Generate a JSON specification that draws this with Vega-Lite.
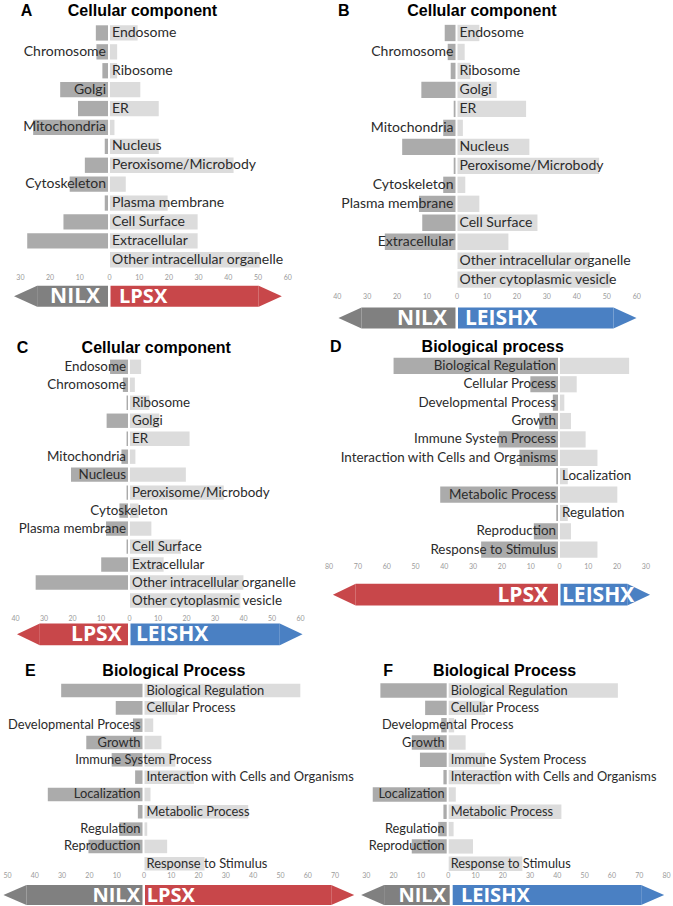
{
  "$schema": "https://vega.github.io/schema/vega-lite/v6.json",
  "padding": {"top": 2.5, "left": 0, "right": 0, "bottom": 0},
  "background": "white",
  "config": {
    "view": {"stroke": null},
    "axis": {"labelFont": "Lato", "labelFontSize": 7, "labelColor": "#9a9a9a", "ticks": false, "domain": false, "grid": false, "labelFlush": false, "labelOverlap": false, "labelBound": false},
    "title": {"font": "Liberation Sans", "fontSize": 16, "fontWeight": "bold", "color": "#000000", "anchor": "start", "frame": "group", "baseline": "alphabetic"},
    "text": {"font": "Lato", "fontSize": 13, "color": "#2b2b2b", "baseline": "middle"}
  },
  "datasets": {
    "A": [
      {"term": "Endosome", "group": "NILX", "value": -4.1}, {"term": "Endosome", "group": "LPSX", "value": 9.3},
      {"term": "Chromosome", "group": "NILX", "value": -3.9}, {"term": "Chromosome", "group": "LPSX", "value": 2.4},
      {"term": "Ribosome", "group": "NILX", "value": -1.9}, {"term": "Ribosome", "group": "LPSX", "value": 2.4},
      {"term": "Golgi", "group": "NILX", "value": -16.1}, {"term": "Golgi", "group": "LPSX", "value": 10.2},
      {"term": "ER", "group": "NILX", "value": -10.1}, {"term": "ER", "group": "LPSX", "value": 16.4},
      {"term": "Mitochondria", "group": "NILX", "value": -25.2}, {"term": "Mitochondria", "group": "LPSX", "value": 1.5},
      {"term": "Nucleus", "group": "NILX", "value": -1.1}, {"term": "Nucleus", "group": "LPSX", "value": 16.4},
      {"term": "Peroxisome/Microbody", "group": "NILX", "value": -7.8}, {"term": "Peroxisome/Microbody", "group": "LPSX", "value": 41.6},
      {"term": "Cytoskeleton", "group": "NILX", "value": -12.9}, {"term": "Cytoskeleton", "group": "LPSX", "value": 5.3},
      {"term": "Plasma membrane", "group": "NILX", "value": -1.1}, {"term": "Plasma membrane", "group": "LPSX", "value": 19.4},
      {"term": "Cell Surface", "group": "NILX", "value": -15}, {"term": "Cell Surface", "group": "LPSX", "value": 29.5},
      {"term": "Extracellular", "group": "NILX", "value": -27.2}, {"term": "Extracellular", "group": "LPSX", "value": 29.5},
      {"term": "Other intracellular organelle", "group": "LPSX", "value": 50.4}
    ],
    "B": [
      {"term": "Endosome", "group": "NILX", "value": -3.6}, {"term": "Endosome", "group": "LEISHX", "value": 7.3},
      {"term": "Chromosome", "group": "NILX", "value": -2.6}, {"term": "Chromosome", "group": "LEISHX", "value": 2.4},
      {"term": "Ribosome", "group": "NILX", "value": -1.6}, {"term": "Ribosome", "group": "LEISHX", "value": 4.3},
      {"term": "Golgi", "group": "NILX", "value": -11.4}, {"term": "Golgi", "group": "LEISHX", "value": 13.1},
      {"term": "ER", "group": "NILX", "value": -0.6}, {"term": "ER", "group": "LEISHX", "value": 22.9},
      {"term": "Mitochondria", "group": "NILX", "value": -4.1}, {"term": "Mitochondria", "group": "LEISHX", "value": 1.8},
      {"term": "Nucleus", "group": "NILX", "value": -17.8}, {"term": "Nucleus", "group": "LEISHX", "value": 24},
      {"term": "Peroxisome/Microbody", "group": "NILX", "value": -0.6}, {"term": "Peroxisome/Microbody", "group": "LEISHX", "value": 47.3},
      {"term": "Cytoskeleton", "group": "NILX", "value": -4.1}, {"term": "Cytoskeleton", "group": "LEISHX", "value": 2.6},
      {"term": "Plasma membrane", "group": "NILX", "value": -12.2}, {"term": "Plasma membrane", "group": "LEISHX", "value": 7.3},
      {"term": "Cell Surface", "group": "NILX", "value": -11.1}, {"term": "Cell Surface", "group": "LEISHX", "value": 26.7},
      {"term": "Extracellular", "group": "NILX", "value": -23.6}, {"term": "Extracellular", "group": "LEISHX", "value": 17},
      {"term": "Other intracellular organelle", "group": "LEISHX", "value": 44.1},
      {"term": "Other cytoplasmic vesicle", "group": "LEISHX", "value": 51}
    ],
    "C": [
      {"term": "Endosome", "group": "LPSX", "value": -6.3}, {"term": "Endosome", "group": "LEISHX", "value": 3.9},
      {"term": "Chromosome", "group": "LPSX", "value": -1.8}, {"term": "Chromosome", "group": "LEISHX", "value": 1.7},
      {"term": "Ribosome", "group": "LPSX", "value": -0.5}, {"term": "Ribosome", "group": "LEISHX", "value": 6.8},
      {"term": "Golgi", "group": "LPSX", "value": -7.5}, {"term": "Golgi", "group": "LEISHX", "value": 10.3},
      {"term": "ER", "group": "LPSX", "value": -0.5}, {"term": "ER", "group": "LEISHX", "value": 20.9},
      {"term": "Mitochondria", "group": "LPSX", "value": -2.3}, {"term": "Mitochondria", "group": "LEISHX", "value": 1.9},
      {"term": "Nucleus", "group": "LPSX", "value": -20}, {"term": "Nucleus", "group": "LEISHX", "value": 19.6},
      {"term": "Peroxisome/Microbody", "group": "LPSX", "value": -0.5}, {"term": "Peroxisome/Microbody", "group": "LEISHX", "value": 32.9},
      {"term": "Cytoskeleton", "group": "LPSX", "value": -3}, {"term": "Cytoskeleton", "group": "LEISHX", "value": 3},
      {"term": "Plasma membrane", "group": "LPSX", "value": -7.7}, {"term": "Plasma membrane", "group": "LEISHX", "value": 7.5},
      {"term": "Cell Surface", "group": "LPSX", "value": -0.5}, {"term": "Cell Surface", "group": "LEISHX", "value": 17.9},
      {"term": "Extracellular", "group": "LPSX", "value": -9.4}, {"term": "Extracellular", "group": "LEISHX", "value": 11.8},
      {"term": "Other intracellular organelle", "group": "LPSX", "value": -32.4}, {"term": "Other intracellular organelle", "group": "LEISHX", "value": 39.8},
      {"term": "Other cytoplasmic vesicle", "group": "LEISHX", "value": 38.7}
    ],
    "D": [
      {"term": "Biological Regulation", "group": "LPSX", "value": -57.1}, {"term": "Biological Regulation", "group": "LEISHX", "value": 24},
      {"term": "Cellular Process", "group": "LPSX", "value": -9.6}, {"term": "Cellular Process", "group": "LEISHX", "value": 5.8},
      {"term": "Developmental Process", "group": "LPSX", "value": -1.8}, {"term": "Developmental Process", "group": "LEISHX", "value": 1.5},
      {"term": "Growth", "group": "LPSX", "value": -6.5}, {"term": "Growth", "group": "LEISHX", "value": 3.8},
      {"term": "Immune System Process", "group": "LPSX", "value": -20.6}, {"term": "Immune System Process", "group": "LEISHX", "value": 8.9},
      {"term": "Interaction with Cells and Organisms", "group": "LPSX", "value": -13.4}, {"term": "Interaction with Cells and Organisms", "group": "LEISHX", "value": 13},
      {"term": "Localization", "group": "LPSX", "value": -0.6}, {"term": "Localization", "group": "LEISHX", "value": 2.7},
      {"term": "Metabolic Process", "group": "LPSX", "value": -40.9}, {"term": "Metabolic Process", "group": "LEISHX", "value": 19.9},
      {"term": "Regulation", "group": "LPSX", "value": -0.6}, {"term": "Regulation", "group": "LEISHX", "value": 2.7},
      {"term": "Reproduction", "group": "LPSX", "value": -8.4}, {"term": "Reproduction", "group": "LEISHX", "value": 3.8},
      {"term": "Response to Stimulus", "group": "LPSX", "value": -26.7}, {"term": "Response to Stimulus", "group": "LEISHX", "value": 13}
    ],
    "E": [
      {"term": "Biological Regulation", "group": "NILX", "value": -29.8}, {"term": "Biological Regulation", "group": "LPSX", "value": 57.1},
      {"term": "Cellular Process", "group": "NILX", "value": -9.8}, {"term": "Cellular Process", "group": "LPSX", "value": 12},
      {"term": "Developmental Process", "group": "NILX", "value": -3.5}, {"term": "Developmental Process", "group": "LPSX", "value": 3.2},
      {"term": "Growth", "group": "NILX", "value": -20.6}, {"term": "Growth", "group": "LPSX", "value": 6.2},
      {"term": "Immune System Process", "group": "NILX", "value": -11.3}, {"term": "Immune System Process", "group": "LPSX", "value": 11.3},
      {"term": "Interaction with Cells and Organisms", "group": "NILX", "value": -2.7}, {"term": "Interaction with Cells and Organisms", "group": "LPSX", "value": 18.1},
      {"term": "Localization", "group": "NILX", "value": -34.7}, {"term": "Localization", "group": "LPSX", "value": 2.2},
      {"term": "Metabolic Process", "group": "NILX", "value": -1.7}, {"term": "Metabolic Process", "group": "LPSX", "value": 38},
      {"term": "Regulation", "group": "NILX", "value": -8.5}, {"term": "Regulation", "group": "LPSX", "value": 1},
      {"term": "Reproduction", "group": "NILX", "value": -19.8}, {"term": "Reproduction", "group": "LPSX", "value": 8.3},
      {"term": "Response to Stimulus", "group": "LPSX", "value": 22}
    ],
    "F": [
      {"term": "Biological Regulation", "group": "NILX", "value": -24.3}, {"term": "Biological Regulation", "group": "LEISHX", "value": 62},
      {"term": "Cellular Process", "group": "NILX", "value": -7.9}, {"term": "Cellular Process", "group": "LEISHX", "value": 13.4},
      {"term": "Developmental Process", "group": "NILX", "value": -2}, {"term": "Developmental Process", "group": "LEISHX", "value": 2},
      {"term": "Growth", "group": "NILX", "value": -12.8}, {"term": "Growth", "group": "LEISHX", "value": 6.2},
      {"term": "Immune System Process", "group": "NILX", "value": -9.8}, {"term": "Immune System Process", "group": "LEISHX", "value": 13.4},
      {"term": "Interaction with Cells and Organisms", "group": "NILX", "value": -1.2}, {"term": "Interaction with Cells and Organisms", "group": "LEISHX", "value": 19},
      {"term": "Localization", "group": "NILX", "value": -27.1}, {"term": "Localization", "group": "LEISHX", "value": 2.6},
      {"term": "Metabolic Process", "group": "NILX", "value": -1.2}, {"term": "Metabolic Process", "group": "LEISHX", "value": 41.3},
      {"term": "Regulation", "group": "NILX", "value": -3.1}, {"term": "Regulation", "group": "LEISHX", "value": 1.8},
      {"term": "Reproduction", "group": "NILX", "value": -12.8}, {"term": "Reproduction", "group": "LEISHX", "value": 8.9},
      {"term": "Response to Stimulus", "group": "LEISHX", "value": 27}
    ]
  },
  "spacing": 9.3,
  "vconcat": [
    {
      "spacing": 40.2,
      "hconcat": [
        {
          "bounds": "flush",
          "spacing": 16.2,
          "vconcat": [
            {
              "width": 290.8, "height": 245.7,
              "title": {"text": "A\u00a0\u00a0\u00a0\u00a0\u00a0\u00a0\u00a0\u00a0Cellular component", "dx": 20.7, "offset": 4.7},
              "data": {"name": "A"},
              "layer": [
                {"transform": [{"filter": "datum.value < 0"}], "mark": {"type": "bar", "color": "#ababab", "xOffset": -1, "x2Offset": -1},
                 "encoding": {
                   "y": {"field": "term", "type": "nominal", "sort": null, "axis": null, "scale": {"domain": ["Endosome", "Chromosome", "Ribosome", "Golgi", "ER", "Mitochondria", "Nucleus", "Peroxisome/Microbody", "Cytoskeleton", "Plasma membrane", "Cell Surface", "Extracellular", "Other intracellular organelle"], "paddingInner": 0.19, "paddingOuter": 0.095}},
                   "x": {"field": "value", "type": "quantitative", "title": null, "scale": {"domain": [-36.7, 61.2], "nice": false}, "axis": {"values": [-30, -20, -10, 0, 10, 20, 30, 40, 50, 60], "tickCount": 40, "labelExpr": "format(abs(datum.value), 'd')", "labelPadding": 4.4, "labelOverlap": false, "title": null}}}},
                {"transform": [{"filter": "datum.value > 0"}], "mark": {"type": "bar", "color": "#dcdcdc", "xOffset": 1, "x2Offset": 1},
                 "encoding": {"y": {"field": "term", "type": "nominal"}, "x": {"field": "value", "type": "quantitative", "title": null}}},
                {"transform": [{"aggregate": [{"op": "sum", "field": "value", "as": "net"}], "groupby": ["term"]}, {"filter": "datum.net < -0.001"}],
                 "mark": {"type": "text", "align": "right", "dx": -3, "fontSize": 14},
                 "encoding": {"y": {"field": "term", "type": "nominal"}, "x": {"datum": 0, "type": "quantitative", "title": null}, "text": {"field": "term"}}},
                {"transform": [{"aggregate": [{"op": "sum", "field": "value", "as": "net"}], "groupby": ["term"]}, {"filter": "datum.net > 0.001"}],
                 "mark": {"type": "text", "align": "left", "dx": 3, "fontSize": 14},
                 "encoding": {"y": {"field": "term", "type": "nominal"}, "x": {"datum": 0, "type": "quantitative", "title": null}, "text": {"field": "term"}}},
                {"transform": [{"aggregate": [{"op": "sum", "field": "value", "as": "net"}], "groupby": ["term"]}, {"filter": "abs(datum.net) <= 0.001"}],
                 "mark": {"type": "text", "align": "center", "fontSize": 14},
                 "encoding": {"y": {"field": "term", "type": "nominal"}, "x": {"datum": 0, "type": "quantitative", "title": null}, "text": {"field": "term"}}}
              ]
            },
            {
              "width": 290.8, "height": 21,
              "data": {"values": [{}]},
              "layer": [
                {"mark": {"type": "rect", "color": "#808080", "x2Offset": -1}, "encoding": {"x": {"datum": -24.2, "type": "quantitative", "title": null, "axis": null, "scale": {"domain": [-36.7, 61.2], "nice": false}}, "x2": {"datum": 0}}},
                {"mark": {"type": "point", "shape": "M0,-1L-2.2,0L0,1Z", "filled": true, "size": 441, "color": "#808080", "opacity": 1, "strokeWidth": 0}, "encoding": {"x": {"datum": -24.2, "type": "quantitative", "title": null, "axis": null}}},
                {"mark": {"type": "rect", "color": "#c8474a", "xOffset": 1.5}, "encoding": {"x": {"datum": 0, "type": "quantitative", "title": null, "axis": null}, "x2": {"datum": 50.4}}},
                {"mark": {"type": "point", "shape": "M0,-1L2.2,0L0,1Z", "filled": true, "size": 441, "color": "#c8474a", "opacity": 1, "strokeWidth": 0}, "encoding": {"x": {"datum": 50.4, "type": "quantitative", "title": null, "axis": null}}},
                {"mark": {"type": "text", "text": "NILX", "align": "right", "dx": -9, "dy": 1, "font": "Open Sans", "fontSize": 21, "fontWeight": "bold", "color": "white"}, "encoding": {"x": {"datum": 0, "type": "quantitative", "title": null, "axis": null}}},
                {"mark": {"type": "text", "text": "LPSX", "align": "left", "dx": 10, "dy": 1, "font": "Open Sans", "fontSize": 20, "fontWeight": "bold", "color": "white"}, "encoding": {"x": {"datum": 0, "type": "quantitative", "title": null, "axis": null}}}
              ]
            }
          ]
        },
        {
          "bounds": "flush",
          "spacing": 17.9,
          "vconcat": [
            {
              "width": 304, "height": 265.7,
              "title": {"text": "B\u00a0\u00a0\u00a0\u00a0\u00a0\u00a0\u00a0\u00a0\u00a0\u00a0\u00a0\u00a0\u00a0Cellular component", "dx": 5.7, "offset": 4.7},
              "data": {"name": "B"},
              "layer": [
                {"transform": [{"filter": "datum.value < 0"}], "mark": {"type": "bar", "color": "#ababab", "xOffset": -1, "x2Offset": -1},
                 "encoding": {
                   "y": {"field": "term", "type": "nominal", "sort": null, "axis": null, "scale": {"domain": ["Endosome", "Chromosome", "Ribosome", "Golgi", "ER", "Mitochondria", "Nucleus", "Peroxisome/Microbody", "Cytoskeleton", "Plasma membrane", "Cell Surface", "Extracellular", "Other intracellular organelle", "Other cytoplasmic vesicle"], "paddingInner": 0.14, "paddingOuter": 0.07}},
                   "x": {"field": "value", "type": "quantitative", "title": null, "scale": {"domain": [-41.5, 60], "nice": false}, "axis": {"values": [-40, -30, -20, -10, 0, 10, 20, 30, 40, 50, 60], "tickCount": 40, "labelExpr": "format(abs(datum.value), 'd')", "labelPadding": 3.7, "labelOverlap": false, "title": null}}}},
                {"transform": [{"filter": "datum.value > 0"}], "mark": {"type": "bar", "color": "#dcdcdc", "xOffset": 1, "x2Offset": 1},
                 "encoding": {"y": {"field": "term", "type": "nominal"}, "x": {"field": "value", "type": "quantitative", "title": null}}},
                {"transform": [{"aggregate": [{"op": "sum", "field": "value", "as": "net"}], "groupby": ["term"]}, {"filter": "datum.net < -0.001"}],
                 "mark": {"type": "text", "align": "right", "dx": -3, "fontSize": 14},
                 "encoding": {"y": {"field": "term", "type": "nominal"}, "x": {"datum": 0, "type": "quantitative", "title": null}, "text": {"field": "term"}}},
                {"transform": [{"aggregate": [{"op": "sum", "field": "value", "as": "net"}], "groupby": ["term"]}, {"filter": "datum.net > 0.001"}],
                 "mark": {"type": "text", "align": "left", "dx": 3, "fontSize": 14},
                 "encoding": {"y": {"field": "term", "type": "nominal"}, "x": {"datum": 0, "type": "quantitative", "title": null}, "text": {"field": "term"}}},
                {"transform": [{"aggregate": [{"op": "sum", "field": "value", "as": "net"}], "groupby": ["term"]}, {"filter": "abs(datum.net) <= 0.001"}],
                 "mark": {"type": "text", "align": "center", "fontSize": 14},
                 "encoding": {"y": {"field": "term", "type": "nominal"}, "x": {"datum": 0, "type": "quantitative", "title": null}, "text": {"field": "term"}}}
              ]
            },
            {
              "width": 304, "height": 21,
              "data": {"values": [{}]},
              "layer": [
                {"mark": {"type": "rect", "color": "#808080", "x2Offset": -1}, "encoding": {"x": {"datum": -31.7, "type": "quantitative", "title": null, "axis": null, "scale": {"domain": [-41.5, 60], "nice": false}}, "x2": {"datum": 0}}},
                {"mark": {"type": "point", "shape": "M0,-1L-2.2,0L0,1Z", "filled": true, "size": 441, "color": "#808080", "opacity": 1, "strokeWidth": 0}, "encoding": {"x": {"datum": -31.7, "type": "quantitative", "title": null, "axis": null}}},
                {"mark": {"type": "rect", "color": "#4a80c3", "xOffset": 1.5}, "encoding": {"x": {"datum": 0, "type": "quantitative", "title": null, "axis": null}, "x2": {"datum": 52.4}}},
                {"mark": {"type": "point", "shape": "M0,-1L2.2,0L0,1Z", "filled": true, "size": 441, "color": "#4a80c3", "opacity": 1, "strokeWidth": 0}, "encoding": {"x": {"datum": 52.4, "type": "quantitative", "title": null, "axis": null}}},
                {"mark": {"type": "text", "text": "NILX", "align": "right", "dx": -9.5, "dy": 1, "font": "Open Sans", "fontSize": 21, "fontWeight": "bold", "color": "white"}, "encoding": {"x": {"datum": 0, "type": "quantitative", "title": null, "axis": null}}},
                {"mark": {"type": "text", "text": "LEISHX", "align": "left", "dx": 8.5, "dy": 1, "font": "Open Sans", "fontSize": 21, "fontWeight": "bold", "color": "white"}, "encoding": {"x": {"datum": 0, "type": "quantitative", "title": null, "axis": null}}}
              ]
            }
          ]
        }
      ]
    },
    {
      "spacing": 16.1,
      "vconcat": [
        {
          "spacing": 19.3,
          "hconcat": [
            {
              "bounds": "flush",
              "spacing": 13.7,
              "vconcat": [
                {
                  "width": 304, "height": 251.7,
                  "title": {"text": "C\u00a0\u00a0\u00a0\u00a0\u00a0\u00a0\u00a0\u00a0\u00a0\u00a0\u00a0\u00a0Cellular component", "dx": 16.7, "offset": 2.3},
                  "data": {"name": "C"},
                  "layer": [
                    {"transform": [{"filter": "datum.value < 0"}], "mark": {"type": "bar", "color": "#ababab", "xOffset": -1, "x2Offset": -1},
                     "encoding": {
                       "y": {"field": "term", "type": "nominal", "sort": null, "axis": null, "scale": {"domain": ["Endosome", "Chromosome", "Ribosome", "Golgi", "ER", "Mitochondria", "Nucleus", "Peroxisome/Microbody", "Cytoskeleton", "Plasma membrane", "Cell Surface", "Extracellular", "Other intracellular organelle", "Other cytoplasmic vesicle"], "paddingInner": 0.2, "paddingOuter": 0.1}},
                       "x": {"field": "value", "type": "quantitative", "title": null, "scale": {"domain": [-45.26, 61.4], "nice": false}, "axis": {"values": [-40, -30, -20, -10, 0, 10, 20, 30, 40, 50, 60], "tickCount": 40, "labelExpr": "format(abs(datum.value), 'd')", "labelPadding": 4.5, "labelOverlap": false, "title": null}}}},
                    {"transform": [{"filter": "datum.value > 0"}], "mark": {"type": "bar", "color": "#dcdcdc", "xOffset": 1, "x2Offset": 1},
                     "encoding": {"y": {"field": "term", "type": "nominal"}, "x": {"field": "value", "type": "quantitative", "title": null}}},
                    {"transform": [{"aggregate": [{"op": "sum", "field": "value", "as": "net"}], "groupby": ["term"]}, {"filter": "datum.net < -0.001"}],
                     "mark": {"type": "text", "align": "right", "dx": -3, "fontSize": 13.4},
                     "encoding": {"y": {"field": "term", "type": "nominal"}, "x": {"datum": 0, "type": "quantitative", "title": null}, "text": {"field": "term"}}},
                    {"transform": [{"aggregate": [{"op": "sum", "field": "value", "as": "net"}], "groupby": ["term"]}, {"filter": "datum.net > 0.001"}],
                     "mark": {"type": "text", "align": "left", "dx": 3, "fontSize": 13.4},
                     "encoding": {"y": {"field": "term", "type": "nominal"}, "x": {"datum": 0, "type": "quantitative", "title": null}, "text": {"field": "term"}}},
                    {"transform": [{"aggregate": [{"op": "sum", "field": "value", "as": "net"}], "groupby": ["term"]}, {"filter": "abs(datum.net) <= 0.001"}],
                     "mark": {"type": "text", "align": "center", "fontSize": 13.4},
                     "encoding": {"y": {"field": "term", "type": "nominal"}, "x": {"datum": 0, "type": "quantitative", "title": null}, "text": {"field": "term"}}}
                  ]
                },
                {
                  "width": 304, "height": 21.7,
                  "data": {"values": [{}]},
                  "layer": [
                    {"mark": {"type": "rect", "color": "#c8474a", "x2Offset": -1}, "encoding": {"x": {"datum": -31.3, "type": "quantitative", "title": null, "axis": null, "scale": {"domain": [-45.26, 61.4], "nice": false}}, "x2": {"datum": 0}}},
                    {"mark": {"type": "point", "shape": "M0,-1L-2.1,0L0,1Z", "filled": true, "size": 471, "color": "#c8474a", "opacity": 1, "strokeWidth": 0}, "encoding": {"x": {"datum": -31.3, "type": "quantitative", "title": null, "axis": null}}},
                    {"mark": {"type": "rect", "color": "#4a80c3", "xOffset": 1.5}, "encoding": {"x": {"datum": 0, "type": "quantitative", "title": null, "axis": null}, "x2": {"datum": 52.9}}},
                    {"mark": {"type": "point", "shape": "M0,-1L2.1,0L0,1Z", "filled": true, "size": 471, "color": "#4a80c3", "opacity": 1, "strokeWidth": 0}, "encoding": {"x": {"datum": 52.9, "type": "quantitative", "title": null, "axis": null}}},
                    {"mark": {"type": "text", "text": "LPSX", "align": "right", "dx": -7.3, "dy": 1, "font": "Open Sans", "fontSize": 21, "fontWeight": "bold", "color": "white"}, "encoding": {"x": {"datum": 0, "type": "quantitative", "title": null, "axis": null}}},
                    {"mark": {"type": "text", "text": "LEISHX", "align": "left", "dx": 7, "dy": 1, "font": "Open Sans", "fontSize": 21, "fontWeight": "bold", "color": "white"}, "encoding": {"x": {"datum": 0, "type": "quantitative", "title": null, "axis": null}}}
                  ]
                }
              ]
            },
            {
              "bounds": "flush",
              "spacing": 23,
              "vconcat": [
                {
                  "width": 321.1, "height": 202.2,
                  "title": {"text": "D\u00a0\u00a0\u00a0\u00a0\u00a0\u00a0\u00a0\u00a0\u00a0\u00a0\u00a0\u00a0\u00a0\u00a0\u00a0\u00a0\u00a0\u00a0Biological process", "dx": 5.7, "offset": 2.5},
                  "data": {"name": "D"},
                  "layer": [
                    {"transform": [{"filter": "datum.value < 0"}], "mark": {"type": "bar", "color": "#ababab", "xOffset": -1, "x2Offset": -1},
                     "encoding": {
                       "y": {"field": "term", "type": "nominal", "sort": null, "axis": null, "scale": {"domain": ["Biological Regulation", "Cellular Process", "Developmental Process", "Growth", "Immune System Process", "Interaction with Cells and Organisms", "Localization", "Metabolic Process", "Regulation", "Reproduction", "Response to Stimulus"], "paddingInner": 0.12, "paddingOuter": 0.06, "align": 0}},
                       "x": {"field": "value", "type": "quantitative", "title": null, "scale": {"domain": [-81.5, 30], "nice": false}, "axis": {"values": [-80, -70, -60, -50, -40, -30, -20, -10, 0, 10, 20, 30], "tickCount": 40, "labelExpr": "format(abs(datum.value), 'd')", "labelPadding": 2.9, "labelOverlap": false, "title": null}}}},
                    {"transform": [{"filter": "datum.value > 0"}], "mark": {"type": "bar", "color": "#dcdcdc", "xOffset": 1, "x2Offset": 1},
                     "encoding": {"y": {"field": "term", "type": "nominal"}, "x": {"field": "value", "type": "quantitative", "title": null}}},
                    {"transform": [{"aggregate": [{"op": "sum", "field": "value", "as": "net"}], "groupby": ["term"]}, {"filter": "datum.net < -0.001"}],
                     "mark": {"type": "text", "align": "right", "dx": -3, "fontSize": 13.4},
                     "encoding": {"y": {"field": "term", "type": "nominal"}, "x": {"datum": 0, "type": "quantitative", "title": null}, "text": {"field": "term"}}},
                    {"transform": [{"aggregate": [{"op": "sum", "field": "value", "as": "net"}], "groupby": ["term"]}, {"filter": "datum.net > 0.001"}],
                     "mark": {"type": "text", "align": "left", "dx": 3, "fontSize": 13.4},
                     "encoding": {"y": {"field": "term", "type": "nominal"}, "x": {"datum": 0, "type": "quantitative", "title": null}, "text": {"field": "term"}}},
                    {"transform": [{"aggregate": [{"op": "sum", "field": "value", "as": "net"}], "groupby": ["term"]}, {"filter": "abs(datum.net) <= 0.001"}],
                     "mark": {"type": "text", "align": "center", "fontSize": 13.4},
                     "encoding": {"y": {"field": "term", "type": "nominal"}, "x": {"datum": 0, "type": "quantitative", "title": null}, "text": {"field": "term"}}}
                  ]
                },
                {
                  "width": 321.1, "height": 21.7,
                  "data": {"values": [{}]},
                  "layer": [
                    {"mark": {"type": "rect", "color": "#c8474a", "x2Offset": -1}, "encoding": {"x": {"datum": -70.6, "type": "quantitative", "title": null, "axis": null, "scale": {"domain": [-81.5, 30], "nice": false}}, "x2": {"datum": 0}}},
                    {"mark": {"type": "point", "shape": "M0,-1L-2.1,0L0,1Z", "filled": true, "size": 471, "color": "#c8474a", "opacity": 1, "strokeWidth": 0}, "encoding": {"x": {"datum": -70.6, "type": "quantitative", "title": null, "axis": null}}},
                    {"mark": {"type": "rect", "color": "#4a80c3", "xOffset": 1.5}, "encoding": {"x": {"datum": 0, "type": "quantitative", "title": null, "axis": null}, "x2": {"datum": 23.7}}},
                    {"mark": {"type": "point", "shape": "M0,-1L2.1,0L0,1Z", "filled": true, "size": 471, "color": "#4a80c3", "opacity": 1, "strokeWidth": 0}, "encoding": {"x": {"datum": 23.7, "type": "quantitative", "title": null, "axis": null}}},
                    {"mark": {"type": "text", "text": "LPSX", "align": "right", "dx": -11, "dy": 1, "font": "Open Sans", "fontSize": 21, "fontWeight": "bold", "color": "white"}, "encoding": {"x": {"datum": 0, "type": "quantitative", "title": null, "axis": null}}},
                    {"mark": {"type": "text", "text": "LEISHX", "align": "left", "dx": 3, "dy": 1, "font": "Open Sans", "fontSize": 21, "fontWeight": "bold", "color": "white"}, "encoding": {"x": {"datum": 0, "type": "quantitative", "title": null, "axis": null}}}
                  ]
                }
              ]
            }
          ]
        },
        {
          "spacing": 5.1,
          "hconcat": [
            {
              "bounds": "flush",
              "spacing": 12.2,
              "vconcat": [
                {
                  "width": 355, "height": 190.5,
                  "title": {"text": "E\u00a0\u00a0\u00a0\u00a0\u00a0\u00a0\u00a0\u00a0\u00a0\u00a0\u00a0\u00a0\u00a0\u00a0\u00a0Biological Process", "dx": 25, "offset": 3.3},
                  "data": {"name": "E"},
                  "layer": [
                    {"transform": [{"filter": "datum.value < 0"}], "mark": {"type": "bar", "color": "#ababab", "xOffset": -1, "x2Offset": -1},
                     "encoding": {
                       "y": {"field": "term", "type": "nominal", "sort": null, "axis": null, "scale": {"domain": ["Biological Regulation", "Cellular Process", "Developmental Process", "Growth", "Immune System Process", "Interaction with Cells and Organisms", "Localization", "Metabolic Process", "Regulation", "Reproduction", "Response to Stimulus"], "paddingInner": 0.22, "paddingOuter": 0.11}},
                       "x": {"field": "value", "type": "quantitative", "title": null, "scale": {"domain": [-52.58, 77.5], "nice": false}, "axis": {"values": [-50, -40, -30, -20, -10, 0, 10, 20, 30, 40, 50, 60, 70], "tickCount": 40, "labelExpr": "format(abs(datum.value), 'd')", "labelPadding": -1, "labelOverlap": false, "title": null}}}},
                    {"transform": [{"filter": "datum.value > 0"}], "mark": {"type": "bar", "color": "#dcdcdc", "xOffset": 1, "x2Offset": 1},
                     "encoding": {"y": {"field": "term", "type": "nominal"}, "x": {"field": "value", "type": "quantitative", "title": null}}},
                    {"transform": [{"aggregate": [{"op": "sum", "field": "value", "as": "net"}], "groupby": ["term"]}, {"filter": "datum.net < -0.001"}],
                     "mark": {"type": "text", "align": "right", "dx": -3, "fontSize": 12.9},
                     "encoding": {"y": {"field": "term", "type": "nominal"}, "x": {"datum": 0, "type": "quantitative", "title": null}, "text": {"field": "term"}}},
                    {"transform": [{"aggregate": [{"op": "sum", "field": "value", "as": "net"}], "groupby": ["term"]}, {"filter": "datum.net > 0.001"}],
                     "mark": {"type": "text", "align": "left", "dx": 3, "fontSize": 12.9},
                     "encoding": {"y": {"field": "term", "type": "nominal"}, "x": {"datum": 0, "type": "quantitative", "title": null}, "text": {"field": "term"}}},
                    {"transform": [{"aggregate": [{"op": "sum", "field": "value", "as": "net"}], "groupby": ["term"]}, {"filter": "abs(datum.net) <= 0.001"}],
                     "mark": {"type": "text", "align": "center", "fontSize": 12.9},
                     "encoding": {"y": {"field": "term", "type": "nominal"}, "x": {"datum": 0, "type": "quantitative", "title": null}, "text": {"field": "term"}}}
                  ]
                },
                {
                  "width": 355, "height": 20,
                  "data": {"values": [{}]},
                  "layer": [
                    {"mark": {"type": "rect", "color": "#808080", "x2Offset": -1}, "encoding": {"x": {"datum": -42.9, "type": "quantitative", "title": null, "axis": null, "scale": {"domain": [-52.58, 77.5], "nice": false}}, "x2": {"datum": 0}}},
                    {"mark": {"type": "point", "shape": "M0,-1L-2.3,0L0,1Z", "filled": true, "size": 400, "color": "#808080", "opacity": 1, "strokeWidth": 0}, "encoding": {"x": {"datum": -42.9, "type": "quantitative", "title": null, "axis": null}}},
                    {"mark": {"type": "rect", "color": "#c8474a", "xOffset": 1.5}, "encoding": {"x": {"datum": 0, "type": "quantitative", "title": null, "axis": null}, "x2": {"datum": 68.8}}},
                    {"mark": {"type": "point", "shape": "M0,-1L2.3,0L0,1Z", "filled": true, "size": 400, "color": "#c8474a", "opacity": 1, "strokeWidth": 0}, "encoding": {"x": {"datum": 68.8, "type": "quantitative", "title": null, "axis": null}}},
                    {"mark": {"type": "text", "text": "NILX", "align": "right", "dx": -3.5, "dy": 0.5, "font": "Open Sans", "fontSize": 20, "fontWeight": "bold", "color": "white"}, "encoding": {"x": {"datum": 0, "type": "quantitative", "title": null, "axis": null}}},
                    {"mark": {"type": "text", "text": "LPSX", "align": "left", "dx": 3.2, "dy": 0.5, "font": "Open Sans", "fontSize": 20, "fontWeight": "bold", "color": "white"}, "encoding": {"x": {"datum": 0, "type": "quantitative", "title": null, "axis": null}}}
                  ]
                }
              ]
            },
            {
              "bounds": "flush",
              "spacing": 12.2,
              "vconcat": [
                {
                  "width": 305.9, "height": 190.5,
                  "title": {"text": "F\u00a0\u00a0\u00a0\u00a0\u00a0\u00a0\u00a0\u00a0\u00a0Biological Process", "dx": 23.2, "offset": 3.3},
                  "data": {"name": "F"},
                  "layer": [
                    {"transform": [{"filter": "datum.value < 0"}], "mark": {"type": "bar", "color": "#ababab", "xOffset": -1, "x2Offset": -1},
                     "encoding": {
                       "y": {"field": "term", "type": "nominal", "sort": null, "axis": null, "scale": {"domain": ["Biological Regulation", "Cellular Process", "Developmental Process", "Growth", "Immune System Process", "Interaction with Cells and Organisms", "Localization", "Metabolic Process", "Regulation", "Reproduction", "Response to Stimulus"], "paddingInner": 0.17, "paddingOuter": 0.085}},
                       "x": {"field": "value", "type": "quantitative", "title": null, "scale": {"domain": [-32.1, 80], "nice": false}, "axis": {"values": [-30, -20, -10, 0, 10, 20, 30, 40, 50, 60, 70, 80], "tickCount": 40, "labelExpr": "format(abs(datum.value), 'd')", "labelPadding": -1, "labelOverlap": false, "title": null}}}},
                    {"transform": [{"filter": "datum.value > 0"}], "mark": {"type": "bar", "color": "#dcdcdc", "xOffset": 1, "x2Offset": 1},
                     "encoding": {"y": {"field": "term", "type": "nominal"}, "x": {"field": "value", "type": "quantitative", "title": null}}},
                    {"transform": [{"aggregate": [{"op": "sum", "field": "value", "as": "net"}], "groupby": ["term"]}, {"filter": "datum.net < -0.001"}],
                     "mark": {"type": "text", "align": "right", "dx": -3, "fontSize": 12.8},
                     "encoding": {"y": {"field": "term", "type": "nominal"}, "x": {"datum": 0, "type": "quantitative", "title": null}, "text": {"field": "term"}}},
                    {"transform": [{"aggregate": [{"op": "sum", "field": "value", "as": "net"}], "groupby": ["term"]}, {"filter": "datum.net > 0.001"}],
                     "mark": {"type": "text", "align": "left", "dx": 3, "fontSize": 12.8},
                     "encoding": {"y": {"field": "term", "type": "nominal"}, "x": {"datum": 0, "type": "quantitative", "title": null}, "text": {"field": "term"}}},
                    {"transform": [{"aggregate": [{"op": "sum", "field": "value", "as": "net"}], "groupby": ["term"]}, {"filter": "abs(datum.net) <= 0.001"}],
                     "mark": {"type": "text", "align": "center", "fontSize": 12.8},
                     "encoding": {"y": {"field": "term", "type": "nominal"}, "x": {"datum": 0, "type": "quantitative", "title": null}, "text": {"field": "term"}}}
                  ]
                },
                {
                  "width": 305.9, "height": 20,
                  "data": {"values": [{}]},
                  "layer": [
                    {"mark": {"type": "rect", "color": "#808080", "x2Offset": 2}, "encoding": {"x": {"datum": -23.3, "type": "quantitative", "title": null, "axis": null, "scale": {"domain": [-32.1, 80], "nice": false}}, "x2": {"datum": 0}}},
                    {"mark": {"type": "point", "shape": "M0,-1L-2.3,0L0,1Z", "filled": true, "size": 400, "color": "#808080", "opacity": 1, "strokeWidth": 0}, "encoding": {"x": {"datum": -23.3, "type": "quantitative", "title": null, "axis": null}}},
                    {"mark": {"type": "rect", "color": "#4a80c3", "xOffset": 5}, "encoding": {"x": {"datum": 0, "type": "quantitative", "title": null, "axis": null}, "x2": {"datum": 70.9}}},
                    {"mark": {"type": "point", "shape": "M0,-1L2.3,0L0,1Z", "filled": true, "size": 400, "color": "#4a80c3", "opacity": 1, "strokeWidth": 0}, "encoding": {"x": {"datum": 70.9, "type": "quantitative", "title": null, "axis": null}}},
                    {"mark": {"type": "text", "text": "NILX", "align": "right", "dx": -1.7, "dy": 0.5, "font": "Open Sans", "fontSize": 20, "fontWeight": "bold", "color": "white"}, "encoding": {"x": {"datum": 0, "type": "quantitative", "title": null, "axis": null}}},
                    {"mark": {"type": "text", "text": "LEISHX", "align": "left", "dx": 13.3, "dy": 0.5, "font": "Open Sans", "fontSize": 20, "fontWeight": "bold", "color": "white"}, "encoding": {"x": {"datum": 0, "type": "quantitative", "title": null, "axis": null}}}
                  ]
                }
              ]
            }
          ]
        }
      ]
    }
  ]
}
